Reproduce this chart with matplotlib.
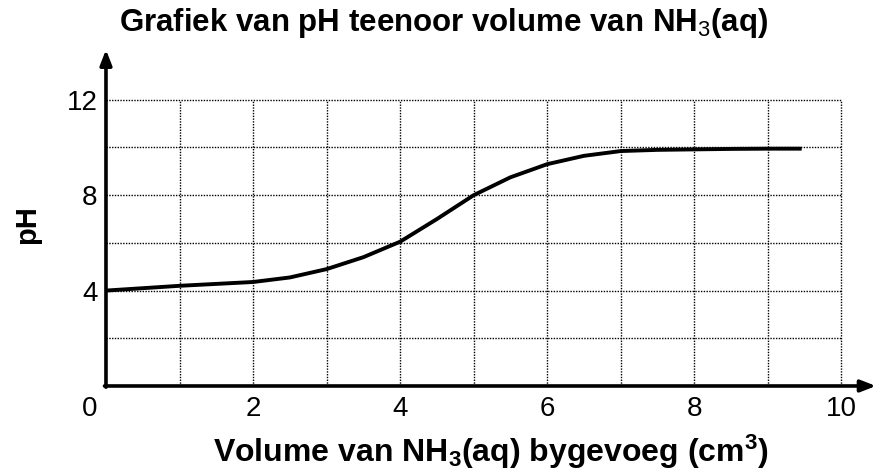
"""pH vs volume NH3(aq) titration curve, drawn as a plain worksheet-style graph."""
import matplotlib
matplotlib.use("Agg")
import matplotlib.pyplot as plt
from matplotlib.transforms import ScaledTranslation

plt.rcParams.update({
    "font.family": ["Liberation Sans", "DejaVu Sans"],
    "mathtext.fontset": "custom",
    "mathtext.rm": "Liberation Sans",
    "mathtext.bf": "Liberation Sans:bold",
    "mathtext.it": "Liberation Sans:italic",
})

# values
volume = [0, 0.5, 1, 1.5, 2, 2.5, 3, 3.5, 4, 4.5, 5, 5.5, 6, 6.5, 7, 7.5, 8, 8.5, 9, 9.46]
ph = [4.0, 4.1, 4.2, 4.28, 4.36, 4.55, 4.9, 5.4, 6.05, 7.0, 8.0, 8.75, 9.3, 9.65, 9.85, 9.9, 9.92, 9.94, 9.95, 9.95]

x_ticks = [2, 4, 6, 8, 10]
y_ticks = [4, 8, 12]
x_grid = [1, 2, 3, 4, 5, 6, 7, 8, 9, 10]
y_grid = [2, 4, 6, 8, 10, 12]

title = "Grafiek van pH teenoor volume van NH$_\\mathrm{3}$(aq)"
xlabel = "Volume van NH$_\\mathbf{3}$(aq) bygevoeg (cm$^\\mathbf{3}$)"
ylabel = "pH"

fig = plt.figure(figsize=(8.78, 4.75), dpi=100)
ax = fig.add_axes([0.1207, 0.1874, 0.877, 0.708])
ax.set_xlim(0, 10.47)
ax.set_ylim(0, 14.1)
for s in ax.spines.values():
    s.set_visible(False)

# dotted grid, only inside the 0-10 / 0-12 box
grid_style = dict(color="black", linewidth=1.0, linestyle=(0, (1, 1)))
ax.vlines(x_grid, 0, 12, **grid_style)
ax.hlines(y_grid, 0, 10, **grid_style)

ax.plot(volume, ph, color="black", linewidth=2.8, solid_capstyle="butt",
        solid_joinstyle="round", zorder=3)

# axes with arrow heads
arrow = dict(arrowstyle="-|>,head_length=0.9,head_width=0.35", color="black",
             linewidth=2.6, shrinkA=0, shrinkB=0)
ax.annotate("", xy=(10.47, 0), xytext=(-0.02, 0), arrowprops=arrow,
            annotation_clip=False)
ax.annotate("", xy=(0, 14.1), xytext=(0, -0.05), arrowprops=arrow,
            annotation_clip=False)

ax.set_xticks(x_ticks)
ax.set_yticks(y_ticks)
ax.tick_params(length=0, labelsize=20)
ax.tick_params(axis="x", pad=7)
ax.tick_params(axis="y", pad=6)
ax.text(0, 0, "0", fontsize=20, ha="center", va="top",
        transform=ax.transData + ScaledTranslation(-16 / 100, -7 / 72, fig.dpi_scale_trans))

fig.text(444 / 878, 1 - 23 / 475, title, fontsize=22.5, fontweight="bold",
         ha="center", va="center")
fig.text(491 / 878, 1 - 452 / 475, xlabel, fontsize=23, fontweight="bold",
         ha="center", va="center")
fig.text(27 / 878, 1 - 225 / 475, ylabel, fontsize=21, fontweight="bold",
         ha="center", va="center", rotation=90)

fig.savefig("out.png", dpi=100)
